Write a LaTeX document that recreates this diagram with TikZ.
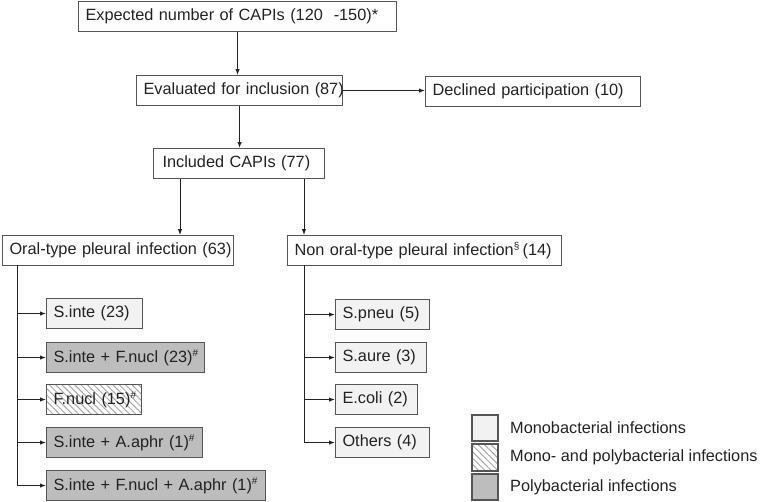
\documentclass[tikz,border=0pt]{standalone}
\usepackage{fontspec}
\setmainfont{Liberation Sans}
\usetikzlibrary{arrows.meta,patterns.meta,calc}
\definecolor{edge}{HTML}{555555}
\definecolor{ink}{HTML}{222222}
\definecolor{monofill}{HTML}{F2F2F2}
\definecolor{polyfill}{HTML}{BDBDBD}
\definecolor{hatch}{HTML}{A8A8A8}
\tikzset{
  x=1pt, y=-1pt,
  box/.style={draw=edge, line width=1.1pt, anchor=north west, minimum height=30pt,
    inner xsep=7pt, inner ysep=0pt, align=left, text=ink, font=\fontsize{16.3}{19}\selectfont},
  mono/.style={box, fill=monofill},
  poly/.style={box, fill=polyfill},
  mixed/.style={box, pattern={Lines[angle=-45,distance=4.5pt,line width=1pt]}, pattern color=hatch},
  arr/.style={draw=ink, line width=1pt, -{Latex[length=6pt,width=4.5pt]}},
  ln/.style={draw=ink, line width=1pt},
  leg/.style={draw=edge, line width=1.1pt},
  legtext/.style={anchor=west, text=ink, font=\fontsize{16.3}{19}\selectfont, inner sep=0pt}
}
\newcommand{\hs}{\textsuperscript{\fontsize{10}{10}\selectfont\#}}
\newcommand{\sct}{\textsuperscript{\fontsize{10}{10}\selectfont\S}}
\begin{document}
\begin{tikzpicture}
\useasboundingbox (0,0) rectangle (770,501);
% main chain
\node[box, text width=304pt] (top) at (78,1) {\mbox{Expected number of CAPIs (120\ \ -150)*}};
\node[box, text width=192pt] (eval) at (136,75) {\mbox{Evaluated for inclusion (87)}};
\node[box, text width=201pt] (decl) at (425,76) {\mbox{Declined participation (10)}};
\node[box, text width=157pt, inner xsep=7pt] (incl) at (153,148) {\hspace{2pt}\mbox{Included CAPIs (77)}};
\node[box, text width=217pt] (oral) at (2,235) {\mbox{Oral-type pleural infection (63)}};
\node[box, text width=260pt] (non) at (287,235) {\mbox{Non oral-type pleural infection\sct\,(14)}};
% left sub-boxes
\node[mono, text width=82pt] (s1) at (46,298) {\mbox{S.inte (23)}};
\node[poly, text width=144pt] (s2) at (46,342) {\mbox{S.inte + F.nucl (23)\hs}};
\node[mixed, text width=81pt] (s3) at (46,384) {\mbox{F.nucl (15)\hs}};
\node[poly, text width=142pt] (s4) at (46,427) {\mbox{S.inte + A.aphr (1)\hs}};
\node[poly, text width=205pt] (s5) at (46,470) {\mbox{S.inte + F.nucl + A.aphr (1)\hs}};
% right sub-boxes
\node[mono, text width=80pt] (r1) at (335,299) {\mbox{S.pneu (5)}};
\node[mono, text width=77pt] (r2) at (335,342) {\mbox{S.aure (3)}};
\node[mono, text width=68pt] (r3) at (335,384) {\mbox{E.coli (2)}};
\node[mono, text width=80pt] (r4) at (335,427) {\mbox{Others (4)}};
% connectors
\draw[arr] (top.south) -- (top.south |- eval.north);
\draw[arr] (eval.east) -- (eval.east -| decl.west);
\draw[arr] (eval.south) -- (eval.south |- incl.north);
\coordinate (ca) at (180,179);
\coordinate (cb) at (304,179);
\draw[arr] (ca) -- (ca |- oral.north);
\draw[arr] (cb) -- (cb |- non.north);
\coordinate (ot) at (17,265);
\draw[ln] (ot) -- (ot |- s5.west);
\foreach \n in {s1,s2,s3,s4,s5} \draw[arr] (ot |- \n.west) -- (\n.west);
\coordinate (nt) at (304,265);
\draw[ln] (nt) -- (nt |- r4.west);
\foreach \n in {r1,r2,r3,r4} \draw[arr] (nt |- \n.west) -- (\n.west);
% legend
\draw[leg, fill=monofill] (472,415) rectangle (498,441);
\draw[leg, pattern={Lines[angle=-45,distance=4.5pt,line width=1pt]}, pattern color=hatch] (472,444) rectangle (498,471);
\draw[leg, fill=polyfill] (472,474) rectangle (498,500);
\node[legtext] (l1) at (510,428) {Monobacterial infections};
\node[legtext] (l2) at (510,457.5) {Mono- and polybacterial infections};
\node[legtext] (l3) at (510,487) {Polybacterial infections};
\end{tikzpicture}
\end{document}
